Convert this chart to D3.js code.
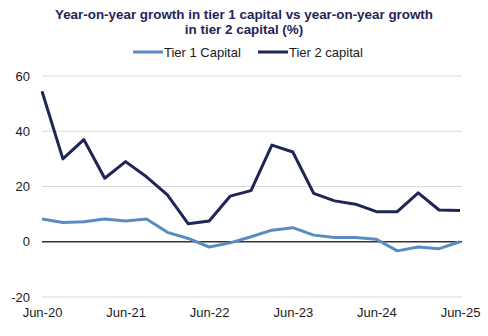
<!DOCTYPE html>
<html>
<head>
<meta charset="utf-8">
<script src="https://cdn.jsdelivr.net/npm/d3@7"></script>
<style>
  body { margin: 0; background: #fff; }
  svg { font-family: "Liberation Sans", Arial, sans-serif; }
</style>
</head>
<body>
<svg id="chart" width="488" height="336"></svg>
<script>
var quarters = ["Jun-20","Sep-20","Dec-20","Mar-21","Jun-21","Sep-21","Dec-21","Mar-22","Jun-22","Sep-22","Dec-22",
  "Mar-23","Jun-23","Sep-23","Dec-23","Mar-24","Jun-24","Sep-24","Dec-24","Mar-25","Jun-25"]
var tier1 = [8.2, 7.0, 7.2, 8.2, 7.5, 8.2, 3.4, 1.2, -1.9, -0.4, 1.8, 4.2, 5.1, 2.4, 1.5, 1.5, 0.9, -3.3, -1.9, -2.5, 0]
var tier2 = [54.5, 30, 37, 23, 29, 23.5, 17, 6.5, 7.5, 16.5, 18.5, 35, 32.5, 17.5, 14.8, 13.6, 10.9, 10.9, 17.7, 11.5, 11.3]
var yTicks = [-20, 0, 20, 40, 60]
var xTickLabels = ["Jun-20","Jun-21","Jun-22","Jun-23","Jun-24","Jun-25"]
var seriesNames = ["Tier 1 Capital", "Tier 2 capital"]
var colors = ["#5a8bc5", "#1f2556"]

var svg = d3.select("#chart")
var plotLeft = 42, plotRight = 460, plotTop = 76, plotBottom = 297

var x = d3.scalePoint().domain(quarters).range([plotLeft, plotRight])
var y = d3.scaleLinear().domain([-20, 60]).range([plotBottom, plotTop])

// title
var title = svg.append("text")
  .attr("text-anchor", "middle")
  .attr("font-weight", "bold")
  .attr("font-size", 13.4)
  .attr("fill", "#1f2556")
title.append("tspan").attr("x", 244).attr("y", 19).text("Year-on-year growth in tier 1 capital vs year-on-year growth")
title.append("tspan").attr("x", 244).attr("y", 34).text("in tier 2 capital (%)")

// legend
var legendX = [133, 258]
seriesNames.forEach(function(name, i) {
  svg.append("line")
    .attr("x1", legendX[i]).attr("x2", legendX[i] + 30)
    .attr("y1", 52).attr("y2", 52)
    .attr("stroke", colors[i]).attr("stroke-width", 3)
  svg.append("text")
    .attr("x", legendX[i] + 31).attr("y", 56.5)
    .attr("font-size", 13).attr("fill", "#1a1a1a")
    .text(name)
})

// gridlines
svg.append("g").selectAll("line")
  .data(yTicks.filter(function(d) { return d != 0 }))
  .enter().append("line")
  .attr("x1", plotLeft).attr("x2", plotRight + 2)
  .attr("y1", function(d) { return y(d) }).attr("y2", function(d) { return y(d) })
  .attr("stroke", "#d9d9d9").attr("stroke-width", 1)

// y axis labels (plain hyphen for negatives, like the source)
var yAxis = d3.axisLeft(y).tickValues(yTicks).tickSize(0).tickPadding(12)
  .tickFormat(function(d) { return String(d) })
var yg = svg.append("g").attr("transform", "translate(" + plotLeft + ",0)").call(yAxis)
yg.select(".domain").remove()
yg.selectAll("text").attr("font-size", 13).attr("fill", "#1a1a1a").attr("font-family", "Liberation Sans, Arial, sans-serif")

// zero line
svg.append("line")
  .attr("x1", plotLeft).attr("x2", plotRight + 2)
  .attr("y1", y(0)).attr("y2", y(0))
  .attr("stroke", "#333").attr("stroke-width", 1.5)

// x axis labels
var xAxis = d3.axisBottom(x).tickValues(xTickLabels).tickSize(0).tickPadding(11)
var xg = svg.append("g").attr("transform", "translate(0," + plotBottom + ")").call(xAxis)
xg.select(".domain").remove()
xg.selectAll("text").attr("font-size", 13).attr("fill", "#1a1a1a").attr("font-family", "Liberation Sans, Arial, sans-serif")

// lines
var line = d3.line()
  .x(function(d, i) { return x(quarters[i]) })
  .y(function(d) { return y(d) })

;[tier1, tier2].forEach(function(data, i) {
  svg.append("path")
    .datum(data)
    .attr("d", line)
    .attr("fill", "none")
    .attr("stroke", colors[i])
    .attr("stroke-width", 3)
    .attr("stroke-linejoin", "round")
})
</script>
</body>
</html>
